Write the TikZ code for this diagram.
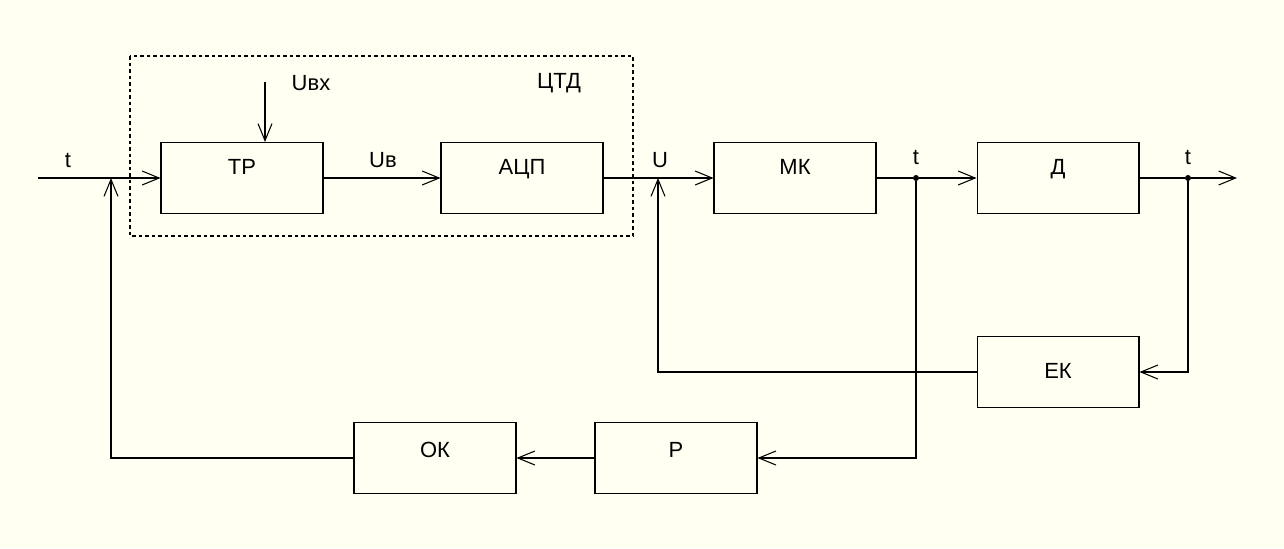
\documentclass[tikz,border=0pt]{standalone}
\usepackage{fontspec}
\setmainfont{Liberation Sans}
\usetikzlibrary{arrows.meta, positioning}
\definecolor{bgcream}{HTML}{FFFFF2}

\begin{document}
\begin{tikzpicture}[
    x=0.02cm, y=-0.02cm,
    blk/.style={
        rectangle, draw=black, fill=none,
        minimum height=1.42cm, minimum width=3.24cm,
        font=\fontsize{12.5}{15}\selectfont, align=center,
        text height=0.32cm, text depth=0.46cm,
        line width=0.6pt,
    },
    arr/.style={-{Straight Barb[length=0.34cm, width=0.28cm]}, line width=0.6pt},
    wire/.style={line width=0.6pt},
    sig/.style={font=\fontsize{12.5}{15}\selectfont, inner sep=1pt},
    dot/.style={circle, fill=black, inner sep=0pt, minimum size=0.12cm},
]

% background / page size
\fill[bgcream] (0,0) rectangle (1284,548);

% === MAIN ROW ===
\node[blk] (tr) at (242,178) {ТР};
\node[blk, right=2.34cm of tr] (adc) {АЦП};
\node[blk, right=2.2cm of adc] (mk) {МК};
\node[blk, right=2.0cm of mk] (d) {Д};

% === FEEDBACK BLOCKS ===
\node[blk, text depth=0.08cm, below=2.44cm of d] (ek) {ЕК};
\node[blk, text depth=0.36cm] (p) at (676,458) {Р};
\node[blk, text depth=0.36cm, left=1.56cm of p] (ok) {ОК};

% Points on the main line
\coordinate (tin) at (38,178);
\coordinate (tjoin) at (111,178);
\coordinate (ujoin) at (658,178);
\node[dot] (j1) at (916,178) {};
\node[dot] (j2) at (1188,178) {};
\coordinate (tout) at (1237,178);
\coordinate (uvx) at (265,82);

% CTD frame
\draw[wire, dash pattern=on 2pt off 1.7pt] (130,56) rectangle (633,236);

% Arrows
\draw[arr] (tin) -- (tr);
\draw[arr] (uvx) -- (uvx |- tr.north);
\draw[arr] (tr) -- (adc);
\draw[arr] (adc) -- (mk);
\draw[wire] (mk) -- (j1);
\draw[arr] (j1) -- (d);
\draw[wire] (d) -- (j2);
\draw[arr] (j2) -- (tout);

% Feedback loops
\draw[arr] (j2) |- (ek);
\draw[arr] (ek) -| (ujoin);
\draw[arr] (j1) |- (p);
\draw[arr] (p) -- (ok);
\draw[arr] (ok) -| (tjoin);

% Signal labels
\node[sig] (lt0) at (68,160) {t};
\node[sig] (luvx) at (311,83) {Uвх};
\node[sig] (lctd) at (559,83) {ЦТД};
\node[sig] (luv) at (383,160) {Uв};
\node[sig] (lu) at (660,160) {U};
\node[sig] (lt1) at (916,157) {t};
\node[sig] (lt2) at (1188,157) {t};

\end{tikzpicture}
\end{document}
